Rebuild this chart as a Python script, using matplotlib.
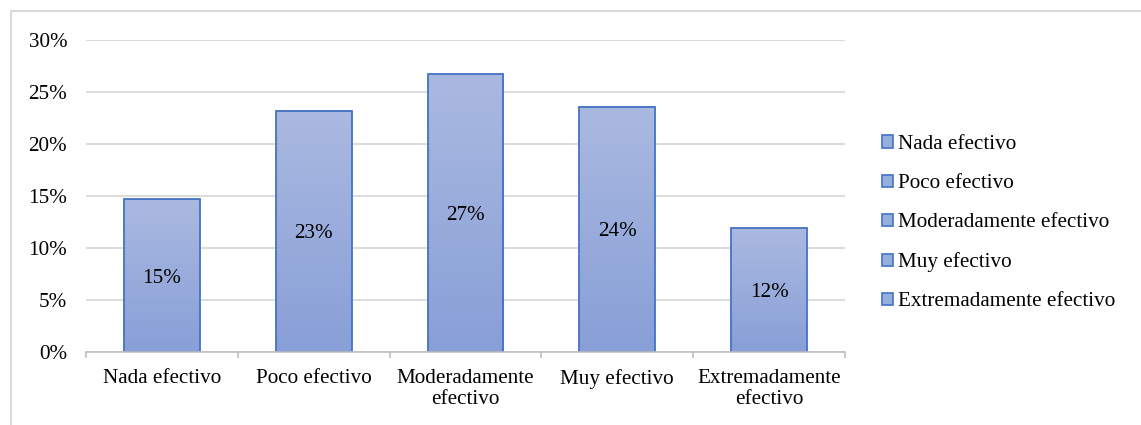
import matplotlib
matplotlib.use("Agg")
import matplotlib.pyplot as plt
import numpy as np
from matplotlib.patches import Rectangle
from matplotlib.lines import Line2D
from matplotlib.colors import LinearSegmentedColormap

# Survey responses: perceived effectiveness (share of respondents, %)
categories = ["Nada efectivo", "Poco efectivo", "Moderadamente efectivo",
              "Muy efectivo", "Extremadamente efectivo"]
tick_labels = ["Nada efectivo", "Poco efectivo", "Moderadamente\nefectivo",
               "Muy efectivo", "Extremadamente\nefectivo"]
shares = [14.7, 23.2, 26.7, 23.6, 11.9]
y_ticks = [0, 5, 10, 15, 20, 25, 30]

plt.rcParams["font.family"] = ["Liberation Serif", "DejaVu Serif"]
FS = 15.2
EDGE = "#4472C4"
GRID = "#D9D9D9"
AXIS = "#BFBFBF"

W, H = 1141, 425
fig = plt.figure(figsize=(W / 100, H / 100), dpi=100)
ax = fig.add_axes([86 / W, (H - 352) / H, (845 - 86) / W, (352 - 40) / H])

x = np.arange(len(categories))
bars = ax.bar(x, shares, width=0.5, facecolor="none", edgecolor=EDGE,
              linewidth=1.3, zorder=3)

# vertical gradient fill inside each bar (darker at the base)
fill = LinearSegmentedColormap.from_list("fill", ["#889FD7", "#AAB9E0"])
grad = np.linspace(0, 1, 256).reshape(-1, 1)
for b in bars:
    x0, w, h = b.get_x(), b.get_width(), b.get_height()
    ax.imshow(grad, extent=[x0, x0 + w, 0, h], origin="lower", cmap=fill,
              aspect="auto", interpolation="bilinear", zorder=2)

for xi, v in zip(x, shares):
    ax.text(xi, v / 2, f"{round(v):.0f}%", ha="center", va="center_baseline",
            fontsize=FS, color="black", zorder=4)

ax.set_xlim(-0.5, len(categories) - 0.5)
ax.set_ylim(0, 30)
ax.set_yticks(y_ticks)
ax.set_yticklabels([f"{t}%" for t in y_ticks])
ax.set_xticks(x)
ax.set_xticklabels(tick_labels, linespacing=1.15)
ax.set_xticks(np.arange(len(categories) + 1) - 0.5, minor=True)

ax.tick_params(axis="y", length=0, pad=13.5, labelsize=FS, labelcolor="black")
ax.tick_params(axis="x", which="major", length=0, pad=12, labelsize=FS,
               labelcolor="black")
ax.tick_params(axis="x", which="minor", length=4.5, width=1.2, color=AXIS)

ax.yaxis.grid(True, color=GRID, linewidth=1.3)
ax.set_axisbelow(True)
for s in ["top", "right", "left"]:
    ax.spines[s].set_visible(False)
ax.spines["bottom"].set_color(AXIS)
ax.spines["bottom"].set_linewidth(1.2)
ax.spines["bottom"].set_zorder(5)

handles = [Rectangle((0, 0), 1, 1, facecolor="#9AAEDC", edgecolor=EDGE,
                     linewidth=1.2) for _ in categories]
fig.legend(handles, categories, loc="upper left",
           bbox_to_anchor=(882 / W, 1 - 135 / H), frameon=False,
           fontsize=FS, handlelength=0.5, handleheight=0.5,
           handletextpad=0.25, labelspacing=0.95, borderpad=0,
           borderaxespad=0)

# chart-area border (top and left edges)
fig.add_artist(Line2D([10.5 / W, 10.5 / W, 1.0], [0.0, 1 - 10.5 / H, 1 - 10.5 / H],
                      transform=fig.transFigure, color=GRID, linewidth=1.5))

fig.savefig("out.png", dpi=100, facecolor="white")
